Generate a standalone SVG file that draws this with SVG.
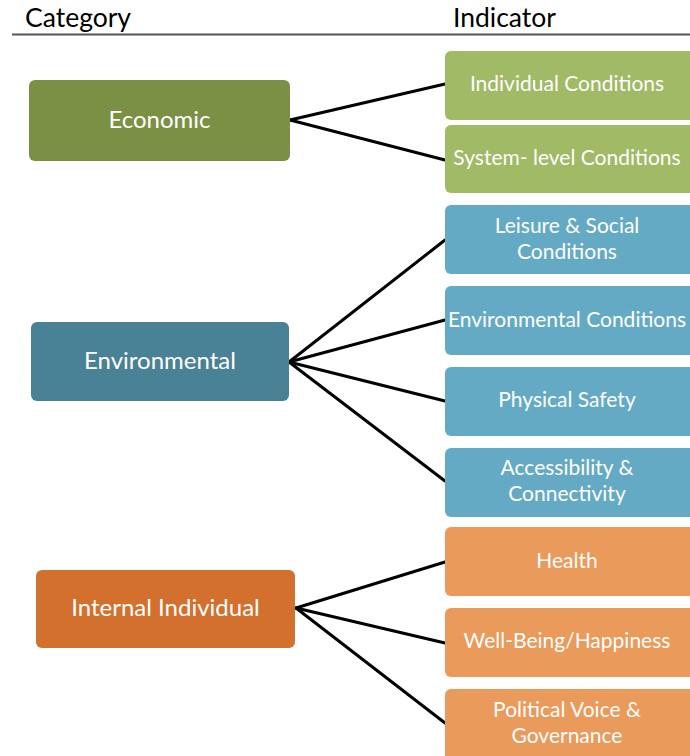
<svg xmlns="http://www.w3.org/2000/svg" width="690" height="756" viewBox="0 0 690 756">
  <style>
    text { font-family: Lato, "Open Sans", "Liberation Sans", sans-serif; }
    .head { font-size: 26.5px; fill: #000; }
    .lbl { font-size: 21px; fill: #fff; text-anchor: middle; dominant-baseline: central; }
    .cat { font-size: 24px; }
    .eco { fill: #7a9045; }
    .eco-i { fill: #a0ba65; }
    .env { fill: #498196; }
    .env-i { fill: #65aac4; }
    .int { fill: #d3702e; }
    .int-i { fill: #ea9a5a; }
    .links line { stroke: #000; stroke-width: 3; stroke-linecap: round; }
  </style>

  <rect width="690" height="756" fill="#fff"/>

  <!-- column headings -->
  <g id="headings">
    <text class="head" x="25" y="27">Category</text>
    <text class="head" x="453" y="27">Indicator</text>
    <line x1="12" y1="34.5" x2="690" y2="34.5" stroke="#555" stroke-width="2"/>
  </g>

  <!-- connectors -->
  <g id="connectors" class="links">
    <line x1="290" y1="120" x2="445" y2="84"/>
    <line x1="290" y1="120" x2="445" y2="160"/>
    <line x1="289" y1="362" x2="445" y2="240"/>
    <line x1="289" y1="362" x2="445" y2="320"/>
    <line x1="289" y1="362" x2="445" y2="401"/>
    <line x1="289" y1="362" x2="445" y2="481"/>
    <line x1="296" y1="608" x2="445" y2="562"/>
    <line x1="296" y1="608" x2="445" y2="643"/>
    <line x1="296" y1="608" x2="445" y2="723"/>
  </g>

  <!-- categories -->
  <g id="economic">
    <rect class="eco" x="29" y="80" width="261" height="81" rx="6"/>
    <text class="lbl cat" x="159.5" y="118.5">Economic</text>
  </g>
  <g id="environmental">
    <rect class="env" x="31" y="322" width="258" height="79" rx="6"/>
    <text class="lbl cat" x="160" y="359.5">Environmental</text>
  </g>
  <g id="internal-individual">
    <rect class="int" x="36" y="570" width="259" height="78" rx="6"/>
    <text class="lbl cat" x="165.5" y="606.5">Internal Individual</text>
  </g>

  <!-- economic indicators -->
  <g id="individual-conditions">
    <rect class="eco-i" x="445" y="51" width="252" height="69" rx="6"/>
    <text class="lbl" x="567" y="82.5">Individual Conditions</text>
  </g>
  <g id="system-level-conditions">
    <rect class="eco-i" x="445" y="125" width="252" height="68" rx="6"/>
    <text class="lbl" x="567" y="156.5">System- level Conditions</text>
  </g>

  <!-- environmental indicators -->
  <g id="leisure-social">
    <rect class="env-i" x="445" y="205" width="252" height="69" rx="6"/>
    <text class="lbl" x="567" y="224.5">Leisure &amp; Social</text>
    <text class="lbl" x="567" y="250.5">Conditions</text>
  </g>
  <g id="environmental-conditions">
    <rect class="env-i" x="445" y="286" width="252" height="69" rx="6"/>
    <text class="lbl" x="567" y="318.5">Environmental Conditions</text>
  </g>
  <g id="physical-safety">
    <rect class="env-i" x="445" y="367" width="252" height="69" rx="6"/>
    <text class="lbl" x="567" y="398.5">Physical Safety</text>
  </g>
  <g id="accessibility-connectivity">
    <rect class="env-i" x="445" y="448" width="252" height="69" rx="6"/>
    <text class="lbl" x="567" y="466.5">Accessibility &amp;</text>
    <text class="lbl" x="567" y="492.5">Connectivity</text>
  </g>

  <!-- internal individual indicators -->
  <g id="health">
    <rect class="int-i" x="445" y="527" width="252" height="69" rx="6"/>
    <text class="lbl" x="567" y="559.5">Health</text>
  </g>
  <g id="well-being">
    <rect class="int-i" x="445" y="608" width="252" height="69" rx="6"/>
    <text class="lbl" x="567" y="639.5">Well-Being/Happiness</text>
  </g>
  <g id="political-voice">
    <rect class="int-i" x="445" y="689" width="252" height="75" rx="6"/>
    <text class="lbl" x="567" y="708.5">Political Voice &amp;</text>
    <text class="lbl" x="567" y="734.5">Governance</text>
  </g>
</svg>
